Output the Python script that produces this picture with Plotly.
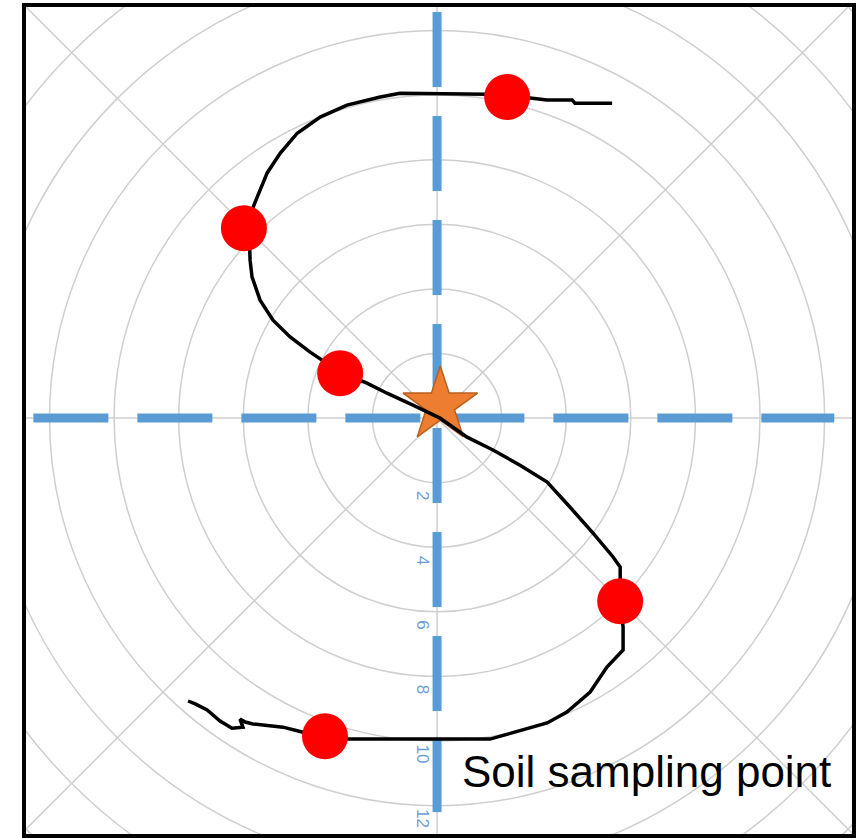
import plotly.graph_objects as go

# S-shaped walking path (x, y in grid units, origin at the star)
path_x = [5.42, 4.27, 4.18, 3.41, 2.88, 2.17, 1.55, -1.15, -1.76, -2.79, -3.62, -4.33,
          -4.86, -5.26, -5.57, -5.73, -5.82, -5.79, -5.73, -5.48, -5.08, -4.55, -3.93,
          -3.00, -2.17, -1.55, -0.68, 0.09, 0.93, 1.73, 2.57, 3.41, 4.12, 4.83, 5.45,
          5.67, 5.67, 5.76, 5.76, 5.26, 4.74, 4.02, 3.41, 2.57, 1.64, -3.47, -4.18,
          -4.77, -5.70, -5.94, -6.10, -6.01, -6.35, -6.72, -7.12, -7.49, -7.71]
path_y = [9.75, 9.75, 9.85, 9.85, 9.91, 9.94, 10.03, 10.06, 9.94, 9.69, 9.32, 8.82,
          8.20, 7.59, 6.84, 6.44, 5.88, 4.89, 4.37, 3.65, 3.03, 2.51, 2.04,
          1.42, 1.08, 0.77, 0.37, 0.00, -0.59, -0.99, -1.46, -1.98, -2.76, -3.56, -4.30,
          -4.61, -5.67, -6.47, -7.18, -7.71, -8.48, -9.10, -9.44, -9.69, -9.94, -9.94, -9.72,
          -9.57, -9.47, -9.41, -9.32, -9.57, -9.60, -9.38, -9.04, -8.85, -8.76]

# soil sampling points
sample_x = [2.17, -5.98, -3.00, 5.67, -3.47]
sample_y = [9.94, 5.88, 1.39, -5.67, -9.85]

# centre marker
star_x = [0.1]
star_y = [0.4]

# polar-style grid
grid_radii = [2, 4, 6, 8, 10, 12, 14, 16, 18]
tick_values = [2, 4, 6, 8, 10, 12]
tick_labels = ["2", "4", "6", "8", "10", "12"]

BLUE = "#5B9BD5"
GRID = "#cfcfcf"

fig = go.Figure()

# blue dashed cross
fig.add_trace(go.Scatter(
    x=[-12.5, 12.3], y=[0, 0], mode="lines",
    line=dict(color=BLUE, width=9, dash="75px,29px"),
    hoverinfo="skip", showlegend=False
))
fig.add_trace(go.Scatter(
    x=[0, 0], y=[12.57, -12.2], mode="lines",
    line=dict(color=BLUE, width=9, dash="75px,29px"),
    hoverinfo="skip", showlegend=False
))

# star at the centre
fig.add_trace(go.Scatter(
    x=star_x, y=star_y, mode="markers",
    marker=dict(symbol="star", size=56, color="#ED7D31",
                line=dict(color="#B8601E", width=1.5)),
    hoverinfo="skip", showlegend=False
))

# path
fig.add_trace(go.Scatter(
    x=path_x, y=path_y, mode="lines",
    line=dict(color="black", width=3.5),
    hoverinfo="skip", showlegend=False
))

# sampling points
fig.add_trace(go.Scatter(
    x=sample_x, y=sample_y, mode="markers",
    marker=dict(size=46, color="#FF0000", line=dict(width=0)),
    hoverinfo="skip", showlegend=False
))

shapes = []
for r in grid_radii:
    shapes.append(dict(type="circle", xref="x", yref="y", x0=-r, x1=r, y0=-r, y1=r,
                       line=dict(color=GRID, width=1.5), layer="below"))
# spokes every 45 degrees
for (x0, y0, x1, y1) in [(-20, 0, 20, 0), (0, -20, 0, 20), (-20, -20, 20, 20), (-20, 20, 20, -20)]:
    shapes.append(dict(type="line", xref="x", yref="y", x0=x0, y0=y0, x1=x1, y1=y1,
                       line=dict(color=GRID, width=1.5), layer="below"))
# frame
shapes.append(dict(type="rect", xref="paper", yref="paper", x0=0, x1=1, y0=0, y1=1,
                   line=dict(color="black", width=4)))

annotations = []
for v, lab in zip(tick_values, tick_labels):
    annotations.append(dict(x=-0.45, y=-(v + 0.4), xref="x", yref="y", text=lab,
                            showarrow=False, textangle=90,
                            font=dict(family="Liberation Sans", size=17, color="#6A9FD6")))
annotations.append(dict(x=0.71, y=-10.95, xref="x", yref="y", text="Soil sampling point",
                        showarrow=False, xanchor="left", yanchor="middle",
                        font=dict(family="Liberation Sans", size=44, color="black")))

fig.update_layout(
    width=856, height=838,
    margin=dict(l=24, r=2, t=5, b=2),
    plot_bgcolor="white", paper_bgcolor="white",
    xaxis=dict(range=[-12.79, 12.91], showgrid=False, zeroline=False,
               showticklabels=False, ticks=""),
    yaxis=dict(range=[-12.94, 12.79], showgrid=False, zeroline=False,
               showticklabels=False, ticks=""),
    shapes=shapes,
    annotations=annotations,
)

fig.write_html("out.html", config={"displayModeBar": False},
               post_script="document.body.style.margin='0';")
